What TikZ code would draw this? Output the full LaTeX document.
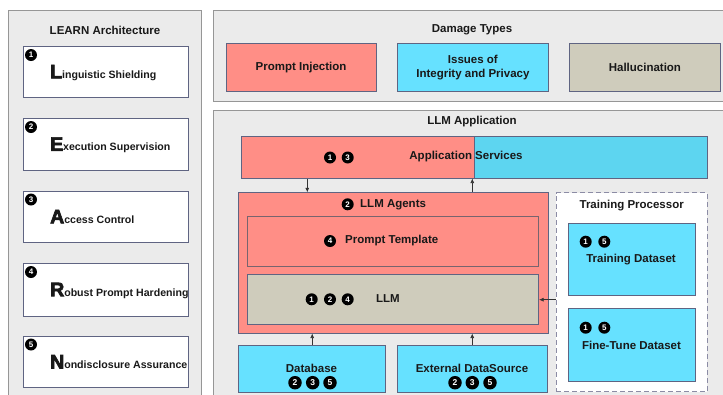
\documentclass[tikz,border=0pt]{standalone}
\usepackage{fontspec}
\setmainfont{Liberation Sans}
\usetikzlibrary{arrows.meta}
\definecolor{panelgray}{RGB}{235,235,235}
\definecolor{panelborder}{RGB}{150,150,150}
\definecolor{boxborder}{RGB}{95,100,130}
\definecolor{salmon}{RGB}{255,142,134}
\definecolor{cyanbox}{RGB}{102,225,255}
\definecolor{cyandeep}{RGB}{93,213,240}
\definecolor{khaki}{RGB}{207,204,188}
\definecolor{textc}{RGB}{25,25,25}
\definecolor{tmplborder}{RGB}{120,100,110}
\definecolor{dashc}{RGB}{140,140,165}
\newcommand\heavyletter[1]{{\fontsize{19.5}{19.5}\selectfont\special{pdf:literal direct 2 Tr 0.7 w}#1\special{pdf:literal direct 0 Tr}}}
\begin{document}
\begin{tikzpicture}[x=1pt,y=-1pt,
  panel/.style={draw=panelborder, fill=panelgray, line width=0.9pt},
  learnbox/.style={draw=boxborder, fill=white, line width=0.8pt, anchor=north west, inner sep=0pt},
  cbox/.style={draw=boxborder, line width=0.8pt, anchor=north west, inner sep=0pt},
  badge/.style={circle, fill=black, text=white, inner sep=0pt, minimum size=12pt, font=\bfseries\fontsize{8}{8}\selectfont},
  bigbadge/.style={badge, minimum size=13.5pt, font=\bfseries\fontsize{8.5}{8.5}\selectfont},
  ttl/.style={font=\bfseries\fontsize{11.5}{12}\selectfont, text=textc, inner sep=0pt},
  lbl/.style={font=\bfseries\fontsize{11.5}{13.5}\selectfont, text=textc, align=center, inner sep=0pt},
  llbl/.style={font=\bfseries\fontsize{10.6}{12}\selectfont, text=textc, anchor=base west, inner sep=0pt},
  arr/.style={draw=black!80, line width=0.6pt, -{Latex[length=4.5pt,width=4pt]}}
]
\useasboundingbox (0,0) rectangle (723,394);
\clip (0,0) rectangle (723,394);

% ---------- LEARN Architecture ----------
\node[panel, anchor=north west, minimum width=193pt, minimum height=400pt, inner sep=0pt] (learn) at (8,10) {};
\node[ttl] (learnT) at (105,30) {LEARN Architecture};

\node[learnbox, minimum width=165.6pt, minimum height=51.6pt] (l1) at (22.7,45.7) {};
\node[learnbox, minimum width=165.6pt, minimum height=51.7pt] (l2) at (22.7,118.3) {};
\node[learnbox, minimum width=165.6pt, minimum height=51.6pt] (l3) at (22.7,190.7) {};
\node[learnbox, minimum width=165.6pt, minimum height=52.4pt] (l4) at (22.7,263.3) {};
\node[learnbox, minimum width=165.6pt, minimum height=51.6pt] (l5) at (22.7,335.7) {};

\node[badge] (b1) at (31,55) {1};
\node[badge] (b2) at (31,127) {2};
\node[badge] (b3) at (31,199.5) {3};
\node[badge] (b4) at (31,272) {4};
\node[badge] (b5) at (31,344.5) {5};

\node[llbl] (t1) at (50,78.3) {\heavyletter{L}inguistic Shielding};
\node[llbl] (t2) at (50,150.8) {\heavyletter{E}xecution Supervision};
\node[llbl] (t3) at (50,223.3) {\heavyletter{A}ccess Control};
\node[llbl] (t4) at (50,296.2) {\heavyletter{R}obust Prompt Hardening};
\node[llbl] (t5) at (50,368.5) {\heavyletter{N}ondisclosure Assurance};

% ---------- Damage Types ----------
\node[panel, anchor=north west, minimum width=515pt, minimum height=90.7pt, inner sep=0pt] (damage) at (212.7,10) {};
\node[ttl] (damageT) at (472,30) {Damage Types};
\node[cbox, fill=salmon, minimum width=150pt, minimum height=47.4pt] (pinj) at (225.7,43.3) {};
\node[lbl] at (pinj.center) {Prompt Injection};
\node[cbox, fill=cyanbox, minimum width=150.4pt, minimum height=47.4pt] (integ) at (397.3,43.3) {};
\node[lbl] at (integ.center) {Issues of\\Integrity and Privacy};
\node[cbox, fill=khaki, minimum width=151pt, minimum height=47.4pt] (hallu) at (569,43.3) {};
\node[lbl] at (hallu.center) {Hallucination};

% ---------- LLM Application ----------
\node[panel, anchor=north west, minimum width=515pt, minimum height=300pt, inner sep=0pt] (app) at (212.7,110) {};
\node[ttl] (appT) at (472,122) {LLM Application};

\node[cbox, fill=salmon, minimum width=233.3pt, minimum height=42pt] (appL) at (241,135.7) {};
\node[cbox, fill=cyandeep, minimum width=233pt, minimum height=42pt] (appR) at (474.3,135.7) {};
\node[lbl] (appS) at (466,156.7) {Application Services};
\node[badge] (ab1) at (330,157.5) {1};
\node[badge] (ab3) at (347.7,157.5) {3};

% LLM Agents
\node[cbox, fill=salmon, minimum width=309.4pt, minimum height=140.4pt] (agents) at (238.3,192.3) {};
\node[badge] (gb2) at (347.7,204.3) {2};
\node[lbl, anchor=west] (agentsT) at (360,205) {LLM Agents};

\node[cbox, draw=tmplborder, fill=salmon, minimum width=291pt, minimum height=50pt] (tmpl) at (247.3,215.7) {};
\node[badge] (pb4) at (330,241) {4};
\node[lbl, anchor=west] (tmplT) at (345,240.5) {Prompt Template};

\node[cbox, fill=khaki, minimum width=291pt, minimum height=50pt] (llm) at (247.3,274.3) {};
\node[badge] (mb1) at (311.7,299.3) {1};
\node[badge] (mb2) at (330,299.3) {2};
\node[badge] (mb4) at (347.7,299.3) {4};
\node[lbl] (llmT) at (388,298.8) {LLM};

% Data sources
\node[cbox, fill=cyanbox, minimum width=147pt, minimum height=47.3pt] (db) at (238.3,344.7) {};
\node[lbl] (dbT) at (311.5,368) {Database};
\node[bigbadge] (db2) at (295,382.7) {2};
\node[bigbadge] (db3) at (312.7,382.7) {3};
\node[bigbadge] (db5) at (330,382.7) {5};

\node[cbox, fill=cyanbox, minimum width=150.3pt, minimum height=47.3pt] (ext) at (396.7,344.7) {};
\node[lbl] (extT) at (472,368) {External DataSource};
\node[bigbadge] (eb2) at (455,382.7) {2};
\node[bigbadge] (eb3) at (472.3,382.7) {3};
\node[bigbadge] (eb5) at (490,382.7) {5};

% Training Processor
\node[draw=dashc, dash pattern=on 5pt off 3pt, line width=1pt, fill=white, anchor=north west, minimum width=151pt, minimum height=198.7pt, inner sep=0pt] (train) at (555.7,192.3) {};
\node[ttl] (trainT) at (631.7,206) {Training Processor};

\node[cbox, fill=cyanbox, minimum width=127.3pt, minimum height=72.3pt] (tds) at (567.7,222.7) {};
\node[badge] (tb1) at (585.7,241.7) {1};
\node[badge] (tb5) at (604.3,241.7) {5};
\node[lbl] (tdsT) at (631,259.3) {Training Dataset};

\node[cbox, fill=cyanbox, minimum width=127.3pt, minimum height=72.4pt] (fds) at (567.7,308.3) {};
\node[badge] (fb1) at (585.7,327.7) {1};
\node[badge] (fb5) at (604.3,327.7) {5};
\node[lbl] (fdsT) at (631.5,345) {Fine-Tune Dataset};

% ---------- connectors ----------
\coordinate (ax1) at (307.3,0);
\coordinate (ax2) at (472.3,0);
\draw[arr] (appL.south -| ax1) -- (agents.north -| ax1);
\draw[arr] (agents.north -| ax2) -- (appL.south -| ax2);
\draw[arr] (db.north) -- (agents.south -| db.north);
\draw[arr] (ext.north) -- (agents.south -| ext.north);
\draw[arr] (train.west |- llm.east) -- (llm.east);
\end{tikzpicture}
\end{document}
